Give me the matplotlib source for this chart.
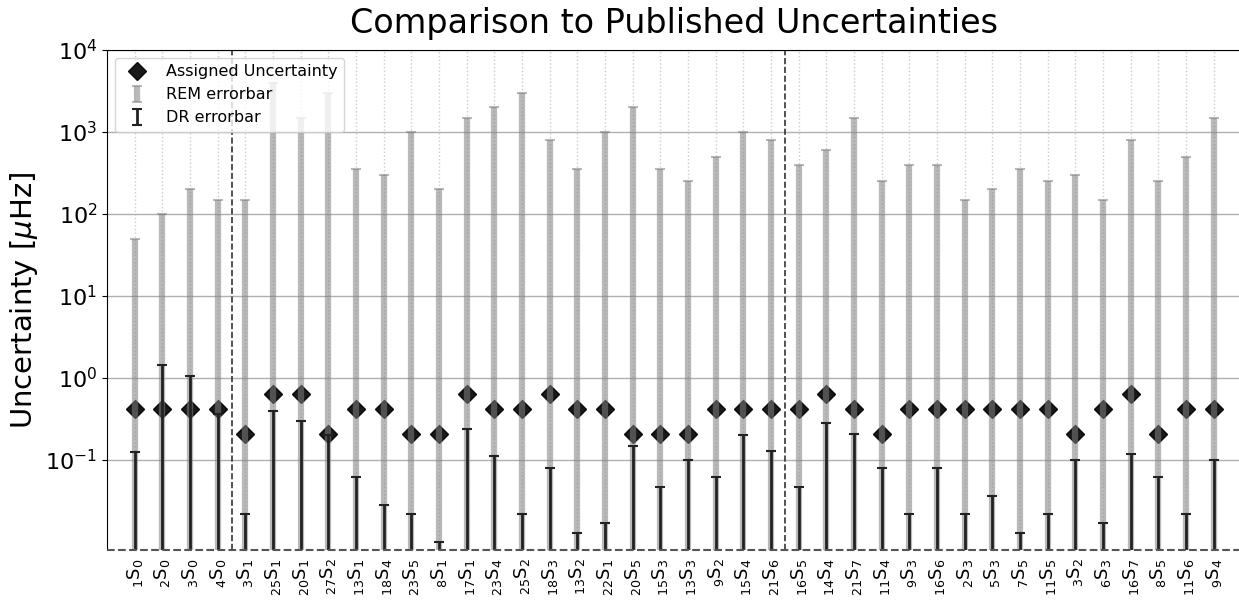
import numpy as np
import matplotlib
matplotlib.use('Agg')
import matplotlib.pyplot as plt

# mode labels  (n S l)
mode_n = [1, 2, 3, 4, 3, 25, 20, 27, 13, 18, 23, 8, 17, 23, 25, 18, 13, 22, 20, 15,
          13, 9, 15, 21, 16, 14, 21, 11, 9, 16, 2, 5, 7, 11, 3, 6, 16, 8, 11, 9]
mode_l = [0, 0, 0, 0, 1, 1, 1, 2, 1, 4, 5, 1, 1, 4, 2, 3, 2, 1, 5, 3,
          3, 2, 4, 6, 5, 4, 7, 4, 3, 6, 3, 3, 5, 5, 2, 3, 7, 5, 6, 4]

assigned = [0.42, 0.42, 0.42, 0.42, 0.21, 0.63, 0.63, 0.21, 0.42, 0.42,
            0.21, 0.21, 0.63, 0.42, 0.42, 0.63, 0.42, 0.42, 0.21, 0.21,
            0.21, 0.42, 0.42, 0.42, 0.42, 0.63, 0.42, 0.21, 0.42, 0.42,
            0.42, 0.42, 0.42, 0.42, 0.21, 0.42, 0.63, 0.21, 0.42, 0.42]

rem_err = [50, 100, 200, 150, 150, 4000, 1500, 3000, 350, 300,
           1000, 200, 1500, 2000, 3000, 800, 350, 1000, 2000, 350,
           250, 500, 1000, 800, 400, 600, 1500, 250, 400, 400,
           150, 200, 350, 250, 300, 150, 800, 250, 500, 1500]

dr_err = [0.125, 1.44, 1.07, 0.36, 0.022, 0.40, 0.30, 0.20, 0.062, 0.028,
          0.022, 0.010, 0.24, 0.112, 0.022, 0.079, 0.013, 0.017, 0.15, 0.047,
          0.10, 0.062, 0.20, 0.13, 0.047, 0.28, 0.21, 0.079, 0.022, 0.079,
          0.022, 0.036, 0.013, 0.022, 0.10, 0.017, 0.12, 0.062, 0.022, 0.10]

group_breaks = [3.5, 23.5]

labels = [r'$_{%d}\mathrm{S}_{%d}$' % (n, l) for n, l in zip(mode_n, mode_l)]
x = np.arange(len(labels))
ymin, ymax = 0.008, 1e4
low = 1e-3

fig = plt.figure(figsize=(12.39, 6), dpi=100)
ax = fig.add_axes([0.0864, 0.0833, 0.9155, 0.8334])

ax.set_yscale('log')

ax.plot(x, assigned, 'D', color='black', markersize=9, alpha=0.9,
        label='Assigned Uncertainty', zorder=3)

rem = np.array(rem_err)
ax.errorbar(x, rem, yerr=[rem - low, np.zeros(len(rem))], fmt='none',
            ecolor='gray', elinewidth=4.5, capsize=3.5, capthick=1.5,
            alpha=0.55, label='REM errorbar', zorder=4)

dr = np.array(dr_err)
ax.errorbar(x, dr, yerr=[dr - low, np.zeros(len(dr))], fmt='none',
            ecolor='#222222', elinewidth=2, capsize=3.5, capthick=1.5,
            label='DR errorbar', zorder=5)

for b in group_breaks:
    ax.axvline(b, color='#333333', ls='--', lw=1.2, zorder=2)
ax.axhline(ymin, color='#555555', ls='--', lw=1.5, zorder=6, clip_on=False)

ax.set_xlim(-1, len(labels))
ax.set_ylim(ymin, ymax)
ax.set_yticks([1e-1, 1, 1e1, 1e2, 1e3, 1e4])
ax.yaxis.set_minor_locator(matplotlib.ticker.NullLocator())
ax.set_xticks(x)
ax.set_xticklabels(labels, rotation=90, fontsize=13)
ax.tick_params(axis='y', labelsize=16)
ax.tick_params(axis='x', length=0, pad=6)

ax.grid(axis='y', color='#b0b0b0', lw=1, zorder=0)
ax.grid(axis='x', color='#cccccc', ls=':', lw=1, zorder=0)
ax.set_axisbelow(True)
ax.spines['bottom'].set_visible(False)
ax.spines['right'].set_visible(False)

ax.set_ylabel(r'Uncertainty [$\mu$Hz]', fontsize=21)
ax.set_title('Comparison to Published Uncertainties', fontsize=24, pad=12)
ax.legend(loc='upper left', fontsize=11.5)

fig.savefig('out.png', dpi=100)
